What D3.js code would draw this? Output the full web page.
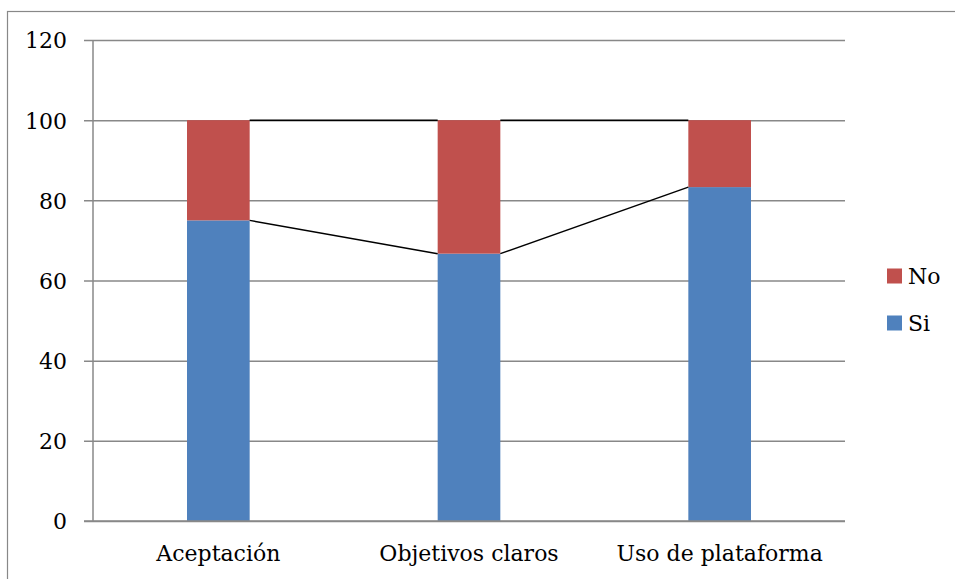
<!DOCTYPE html>
<html><head><meta charset="utf-8">
<script src="https://cdn.jsdelivr.net/npm/d3@7"></script>
<style>body{margin:0;background:#fff}svg{display:block}</style>
</head><body>
<script>
const categories = ["Aceptación", "Objetivos claros", "Uso de plataforma"];
const siValues = [75, 66.7, 83.3];
const noValues = [25, 33.3, 16.7];
const seriesNames = ["Si", "No"];
const colors = {Si: "#4F81BD", No: "#C0504D"};
const yTicks = [0, 20, 40, 60, 80, 100, 120];

const W = 955, H = 579;
const m = {left: 93, right: 845, top: 40, bottom: 521};
const font = "DejaVu Serif";
const fs = 22;

const svg = d3.select("body").append("svg").attr("width", W).attr("height", H);
svg.append("rect").attr("x", 7.5).attr("y", 11.5).attr("width", 960).attr("height", 600)
  .attr("fill", "#fff").attr("stroke", "#888").attr("stroke-width", 1.2);

const x = d3.scaleBand().domain(categories).range([m.left, m.right]).paddingInner(0.75).paddingOuter(0.375);
const y = d3.scaleLinear().domain([0, 120]).range([m.bottom, m.top]);

// gridlines
const yAxis = d3.axisLeft(y).tickValues(yTicks).tickSize(-(m.right - m.left)).tickSizeOuter(0).tickPadding(26);
const gy = svg.append("g").attr("transform", `translate(${m.left},0)`).call(yAxis);
gy.select(".domain").remove();
gy.selectAll(".tick line").attr("stroke", "#888").attr("stroke-width", 1.5).attr("x1", -9);
gy.selectAll(".tick text").attr("font-family", font).attr("font-size", fs).attr("fill", "#000").attr("dy", "0.36em");

// vertical axis line
svg.append("line").attr("x1", m.left).attr("x2", m.left).attr("y1", m.top).attr("y2", m.bottom)
  .attr("stroke", "#888").attr("stroke-width", 1.5);

const rows = categories.map((c, i) => ({cat: c, Si: siValues[i], No: noValues[i]}));
const stacked = d3.stack().keys(seriesNames)(rows);

svg.append("g").selectAll("g").data(stacked).join("g").attr("fill", d => colors[d.key])
  .selectAll("rect").data(d => d).join("rect")
  .attr("x", d => x(d.data.cat)).attr("width", x.bandwidth())
  .attr("y", d => y(d[1])).attr("height", d => y(d[0]) - y(d[1]));

// series lines
stacked.forEach(s => {
  for (let i = 0; i < s.length - 1; i++) {
    svg.append("line")
      .attr("x1", x(s[i].data.cat) + x.bandwidth()).attr("y1", y(s[i][1]))
      .attr("x2", x(s[i + 1].data.cat)).attr("y2", y(s[i + 1][1]))
      .attr("stroke", "#000").attr("stroke-width", 1.5);
  }
});

// x axis
const xAxis = d3.axisBottom(x).tickSize(0).tickPadding(24);
const gx = svg.append("g").attr("transform", `translate(0,${m.bottom})`).call(xAxis);
gx.select(".domain").remove();
gx.selectAll(".tick text").attr("font-family", font).attr("font-size", fs).attr("fill", "#000");
svg.append("line").attr("x1", m.left - 9).attr("x2", m.right).attr("y1", m.bottom).attr("y2", m.bottom)
  .attr("stroke", "#888").attr("stroke-width", 1.5);

// legend
const legendItems = ["No", "Si"];
const lg = svg.append("g");
legendItems.forEach((k, i) => {
  const ly = 276 + i * 47;
  lg.append("rect").attr("x", 887).attr("y", ly - 7.5).attr("width", 15).attr("height", 15).attr("fill", colors[k]);
  lg.append("text").attr("x", 908).attr("y", ly).attr("dy", "0.36em")
    .attr("font-family", font).attr("font-size", fs).text(k);
});
</script>
</body></html>
